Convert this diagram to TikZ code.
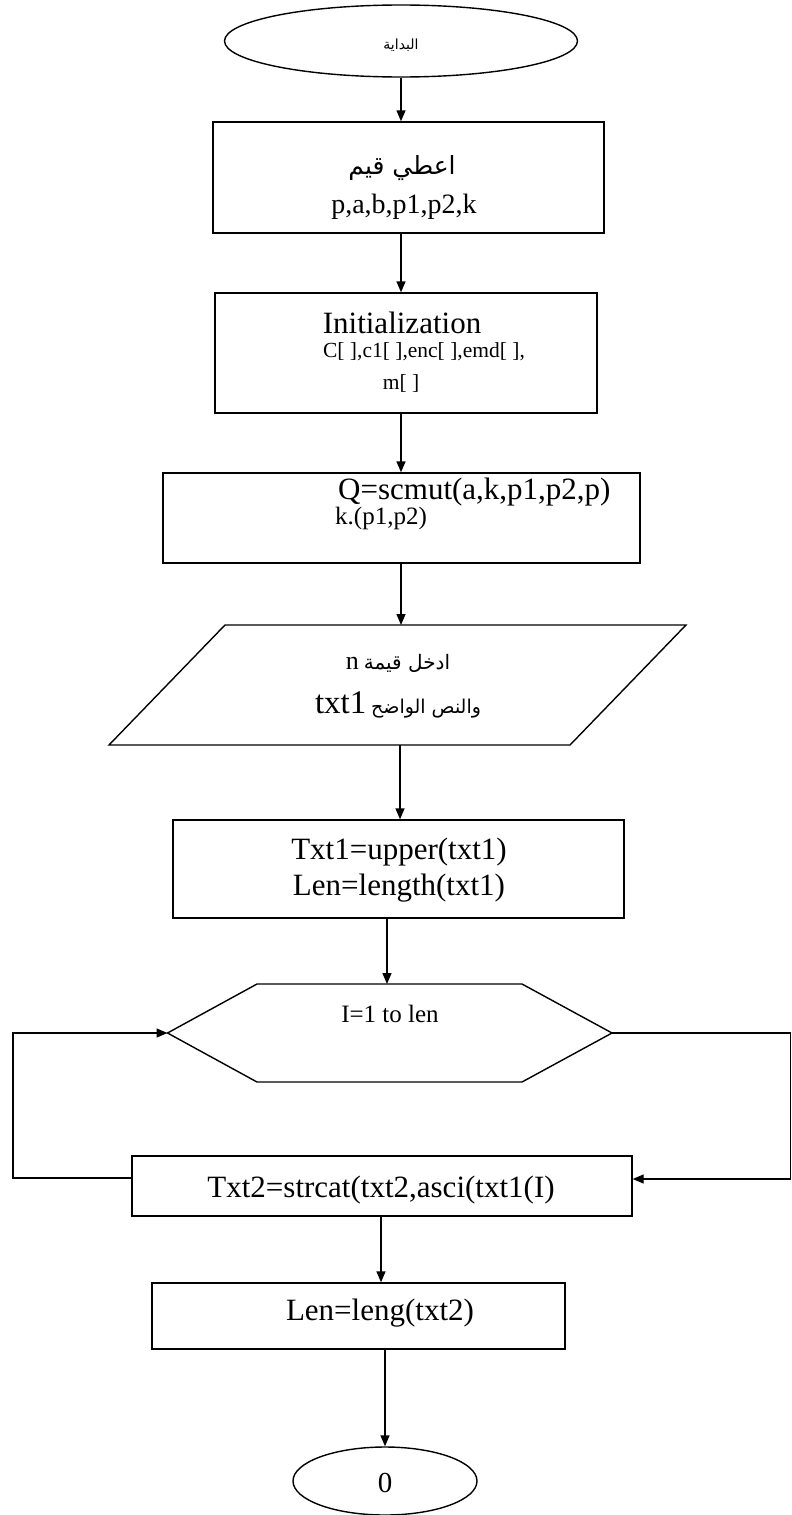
\documentclass[tikz,border=0pt]{standalone}
\usepackage{fontspec}
\setmainfont{Liberation Serif}
\newfontfamily\arabicfont[Script=Arabic]{DejaVu Sans}
\TeXXeTstate=1
\usetikzlibrary{arrows.meta,shapes.geometric}
\begin{document}
\begin{tikzpicture}[x=1pt,y=-1pt,
  shapeline/.style={draw, line width=1.4pt},
  box/.style={shapeline, rectangle, inner sep=0pt},
  oval/.style={shapeline, ellipse, inner sep=0pt},
  conn/.style={line width=1.4pt, -{Triangle[length=11pt,width=9pt]}},
  lbl/.style={inner sep=0pt, font=\fontsize{#1}{#1}\selectfont},
]
\useasboundingbox (0,0) rectangle (792,1515);

% ---- shapes
\node[oval, minimum width=353pt, minimum height=72pt] (start) at (401,41) {};
\node[box, minimum width=391pt, minimum height=111pt] (b1) at (408.5,177.5) {};
\node[box, minimum width=382pt, minimum height=120pt] (b2) at (406,353) {};
\node[box, minimum width=477pt, minimum height=90pt] (b3) at (401.5,518) {};
\coordinate (pTL) at (225,625);
\coordinate (pTR) at (686,625);
\coordinate (pBR) at (570,745);
\coordinate (pBL) at (109,745);
\coordinate (parT) at (401,625);
\coordinate (parB) at (400,745);
\draw[shapeline] (pBL) -- (pBR) -- (pTR) -- (pTL) -- cycle;
\node[box, minimum width=451pt, minimum height=98pt] (b4) at (398.3,869) {};
\coordinate (hL) at (167.5,1033);
\coordinate (hTL) at (257,984);
\coordinate (hTR) at (522,984);
\coordinate (hR) at (612,1033);
\coordinate (hBR) at (522,1082);
\coordinate (hBL) at (257,1082);
\coordinate (hexT) at (387,984);
\draw[shapeline] (hL) -- (hTL) -- (hTR) -- (hR) -- (hBR) -- (hBL) -- cycle;
\node[box, minimum width=500pt, minimum height=60pt] (b5) at (382,1186) {};
\node[box, minimum width=413pt, minimum height=66pt] (b6) at (358.5,1316) {};
\node[oval, minimum width=184pt, minimum height=68pt] (end) at (385,1481) {};

% ---- texts
\node[lbl=14] (t0) at (401,45) {\arabicfont\beginR البداية\endR};
\node[lbl=25] (t1a) at (402,168) {\arabicfont\beginR اعطي قيم\endR};
\node[lbl=28] (t1b) at (404,207) {p,a,b,p1,p2,k};
\node[lbl=31] (t2a) at (402,323) {Initialization};
\node[lbl=21.5] (t2b) at (424,352) {C[ ],c1[ ],enc[ ],emd[ ],};
\node[lbl=21.5] (t2c) at (401,383) {m[ ]};
\node[lbl=31, anchor=west] (t3a) at (338,492) {Q=scmut(a,k,p1,p2,p)};
\node[lbl=25, anchor=west] (t3b) at (335,518) {k.(p1,p2)};
\node[lbl=20] (t4a) at (398,663) {{\fontsize{26}{26}\selectfont n} \arabicfont\beginR ادخل قيمة\endR};
\node[lbl=19] (t4b) at (398,705) {{\fontsize{33}{33}\selectfont txt1} \arabicfont\beginR والنص الواضح\endR};
\node[lbl=31] (t5a) at (399,852) {Txt1=upper(txt1)};
\node[lbl=31] (t5b) at (399,888) {Len=length(txt1)};
\node[lbl=25] (t6) at (390,1014) {I=1 to len};
\node[lbl=31] (t7) at (381,1190) {Txt2=strcat(txt2,asci(txt1(I)};
\node[lbl=31] (t8) at (380,1313) {Len=leng(txt2)};
\node[lbl=29] (t9) at (385,1483) {0};

% ---- connectors
\coordinate (rt1) at (790.5,1033);
\coordinate (rt2) at (790.5,1179);
\coordinate (lf1) at (13,1033);
\coordinate (lf2) at (13,1178);
\draw[conn] (start.south) -- (b1.north -| start.south);
\draw[conn] (b1.south -| start.south) -- (b2.north -| start.south);
\draw[conn] (b2.south -| start.south) -- (b3.north -| start.south);
\draw[conn] (b3.south -| parT) -- (parT);
\draw[conn] (parB) -- (b4.north -| parB);
\draw[conn] (b4.south -| hexT) -- (hexT);
\draw[conn] (hR) -- (rt1) -- (rt2) -- (rt2 -| b5.east);
\draw[conn] (b5.west |- lf2) -- (lf2) -- (lf1) -- (hL);
\draw[conn] (b5.south -| t7) -- (b6.north -| t7);
\draw[conn] (b6.south -| end.north) -- (end.north);
\end{tikzpicture}
\end{document}
